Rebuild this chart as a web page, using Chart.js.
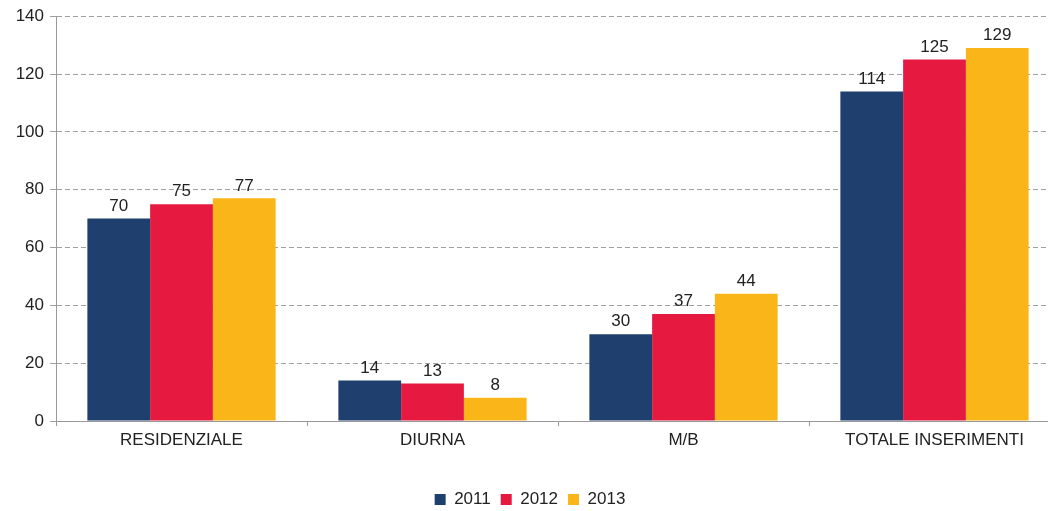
<!DOCTYPE html>
<html>
<head>
<meta charset="utf-8">
<script src="https://cdn.jsdelivr.net/npm/chart.js@4/dist/chart.umd.min.js"></script>
<style>
  html, body { margin: 0; padding: 0; background: #fff; overflow: hidden; }
  #wrap { width: 1048px; height: 511px; overflow: hidden; }
</style>
</head>
<body>
<div id="wrap"><canvas id="chart" width="1060" height="518"></canvas></div>
<script>
const categories = ['RESIDENZIALE', 'DIURNA', 'M/B', 'TOTALE INSERIMENTI'];
const years = ['2011', '2012', '2013'];
const values2011 = [70, 14, 30, 114];
const values2012 = [75, 13, 37, 125];
const values2013 = [77, 8, 44, 129];
const yTicks = [0, 20, 40, 60, 80, 100, 120, 140];

const colors = ['#1f3f6f', '#e61a40', '#fab618'];
const fontFamily = '"Liberation Sans", Arial, sans-serif';

// writes the number above each bar
const valueLabels = {
    id: 'valueLabels',
    afterDatasetsDraw(chart) {
        const ctx = chart.ctx;
        ctx.save();
        ctx.font = '17px ' + fontFamily;
        ctx.fillStyle = '#222';
        ctx.textAlign = 'center';
        ctx.textBaseline = 'bottom';
        chart.data.datasets.forEach((ds, i) => {
            chart.getDatasetMeta(i).data.forEach((bar, j) => {
                ctx.fillText(ds.data[j], bar.x, bar.y - 4);
            });
        });
        ctx.restore();
    }
};

const myChart = new Chart(document.getElementById('chart').getContext('2d'), {
    type: 'bar',
    data: {
        labels: categories,
        datasets: [values2011, values2012, values2013].map((vals, i) => ({
            label: years[i],
            data: vals,
            backgroundColor: colors[i],
            borderWidth: 0,
            categoryPercentage: 0.75,
            barPercentage: 1
        }))
    },
    options: {
        responsive: false,
        animation: false,
        layout: { padding: { top: 15, right: 0, left: 0, bottom: 0 } },
        scales: {
            x: {
                grid: {
                    offset: true,
                    drawOnChartArea: false,
                    tickLength: 5,
                    color: '#999'
                },
                border: { color: '#999', dash: [6, 3] },
                ticks: {
                    color: '#222',
                    font: { family: fontFamily, size: 17 },
                    padding: 4
                },
                afterFit(scale) { scale.height = 60; }
            },
            y: {
                min: 0,
                max: 140,
                afterBuildTicks(scale) { scale.ticks = yTicks.map(v => ({ value: v })); },
                grid: {
                    color: '#a0a0a0',
                    tickLength: 6
                },
                border: { color: '#999', dash: [5, 3] },
                ticks: {
                    color: '#222',
                    font: { family: fontFamily, size: 17 },
                    padding: 6
                },
                afterFit(scale) { scale.width = 56; }
            }
        },
        plugins: {
            legend: {
                position: 'bottom',
                labels: {
                    boxWidth: 11,
                    boxHeight: 11,
                    padding: 10,
                    color: '#222',
                    font: { family: fontFamily, size: 17 }
                }
            },
            tooltip: { enabled: false }
        }
    },
    plugins: [valueLabels]
});

// dashed horizontal grid lines
myChart.options.scales.y.grid.borderDash = [6, 3];
myChart.update();
</script>
</body>
</html>
